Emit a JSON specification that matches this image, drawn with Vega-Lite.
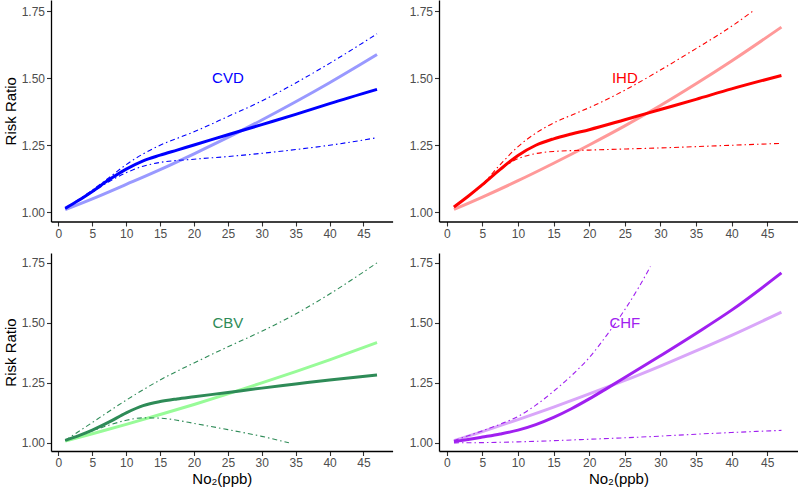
{
"$schema": "https://vega.github.io/schema/vega-lite/v6.json",
"padding": {"left": 3, "top": 0, "right": 0, "bottom": 0},
"background": "white",
"config": {
  "view": {"stroke": null},
  "font": "Liberation Sans",
  "axis": {"domainColor": "#000000", "domainWidth": 1.3, "tickColor": "#333333", "tickWidth": 1.1, "tickSize": 4.5, "labelColor": "#4D4D4D", "labelFontSize": 12, "labelFont": "Liberation Sans", "titleFont": "Liberation Sans", "titleFontSize": 15, "titleFontWeight": "normal", "titleColor": "#000000", "grid": false, "labelPadding": 2, "labelFlush": false},
  "axisY": {"titlePadding": 3},
  "axisX": {"titlePadding": 3},
  "concat": {"spacing": 16}
},
"datasets": {
  "labels": [
    {"d": "CVD", "x": 25, "y": 1.5},
    {"d": "IHD", "x": 25, "y": 1.5},
    {"d": "CBV", "x": 25, "y": 1.5},
    {"d": "CHF", "x": 25, "y": 1.5}
  ],
  "curves": [
    {"d":"CVD","t":"est","x":1,"y":1.015},{"d":"CVD","t":"est","x":3,"y":1.045},{"d":"CVD","t":"est","x":5,"y":1.078},{"d":"CVD","t":"est","x":7.5,"y":1.122},{"d":"CVD","t":"est","x":10,"y":1.161},{"d":"CVD","t":"est","x":12.5,"y":1.192},{"d":"CVD","t":"est","x":15,"y":1.213},{"d":"CVD","t":"est","x":17.5,"y":1.232},{"d":"CVD","t":"est","x":20,"y":1.251},{"d":"CVD","t":"est","x":25,"y":1.289},{"d":"CVD","t":"est","x":30,"y":1.327},{"d":"CVD","t":"est","x":35,"y":1.365},{"d":"CVD","t":"est","x":40,"y":1.405},{"d":"CVD","t":"est","x":47,"y":1.458},
    {"d":"CVD","t":"lin","x":1,"y":1.01},{"d":"CVD","t":"lin","x":5,"y":1.05},{"d":"CVD","t":"lin","x":10,"y":1.104},{"d":"CVD","t":"lin","x":15,"y":1.159},{"d":"CVD","t":"lin","x":20,"y":1.218},{"d":"CVD","t":"lin","x":25,"y":1.279},{"d":"CVD","t":"lin","x":30,"y":1.344},{"d":"CVD","t":"lin","x":35,"y":1.412},{"d":"CVD","t":"lin","x":40,"y":1.483},{"d":"CVD","t":"lin","x":47,"y":1.588},
    {"d":"CVD","t":"hi","x":1,"y":1.015},{"d":"CVD","t":"hi","x":3,"y":1.048},{"d":"CVD","t":"hi","x":5,"y":1.083},{"d":"CVD","t":"hi","x":7.5,"y":1.13},{"d":"CVD","t":"hi","x":10,"y":1.178},{"d":"CVD","t":"hi","x":12.5,"y":1.218},{"d":"CVD","t":"hi","x":15,"y":1.25},{"d":"CVD","t":"hi","x":20,"y":1.30},{"d":"CVD","t":"hi","x":25,"y":1.357},{"d":"CVD","t":"hi","x":30,"y":1.415},{"d":"CVD","t":"hi","x":35,"y":1.482},{"d":"CVD","t":"hi","x":40,"y":1.555},{"d":"CVD","t":"hi","x":47,"y":1.665},
    {"d":"CVD","t":"lo","x":1,"y":1.015},{"d":"CVD","t":"lo","x":3,"y":1.045},{"d":"CVD","t":"lo","x":5,"y":1.075},{"d":"CVD","t":"lo","x":7.5,"y":1.115},{"d":"CVD","t":"lo","x":10,"y":1.148},{"d":"CVD","t":"lo","x":12.5,"y":1.172},{"d":"CVD","t":"lo","x":15,"y":1.186},{"d":"CVD","t":"lo","x":20,"y":1.198},{"d":"CVD","t":"lo","x":25,"y":1.208},{"d":"CVD","t":"lo","x":30,"y":1.22},{"d":"CVD","t":"lo","x":35,"y":1.234},{"d":"CVD","t":"lo","x":40,"y":1.25},{"d":"CVD","t":"lo","x":47,"y":1.278},

    {"d":"IHD","t":"est","x":1,"y":1.02},{"d":"IHD","t":"est","x":3,"y":1.06},{"d":"IHD","t":"est","x":5,"y":1.103},{"d":"IHD","t":"est","x":7.5,"y":1.16},{"d":"IHD","t":"est","x":10,"y":1.212},{"d":"IHD","t":"est","x":12.5,"y":1.25},{"d":"IHD","t":"est","x":15,"y":1.274},{"d":"IHD","t":"est","x":17.5,"y":1.292},{"d":"IHD","t":"est","x":20,"y":1.308},{"d":"IHD","t":"est","x":25,"y":1.345},{"d":"IHD","t":"est","x":30,"y":1.383},{"d":"IHD","t":"est","x":35,"y":1.421},{"d":"IHD","t":"est","x":40,"y":1.46},{"d":"IHD","t":"est","x":47,"y":1.51},
    {"d":"IHD","t":"lin","x":1,"y":1.011},{"d":"IHD","t":"lin","x":5,"y":1.057},{"d":"IHD","t":"lin","x":10,"y":1.118},{"d":"IHD","t":"lin","x":15,"y":1.183},{"d":"IHD","t":"lin","x":20,"y":1.251},{"d":"IHD","t":"lin","x":25,"y":1.322},{"d":"IHD","t":"lin","x":30,"y":1.398},{"d":"IHD","t":"lin","x":35,"y":1.479},{"d":"IHD","t":"lin","x":40,"y":1.564},{"d":"IHD","t":"lin","x":47,"y":1.69},
    {"d":"IHD","t":"hi","x":1,"y":1.02},{"d":"IHD","t":"hi","x":3,"y":1.06},{"d":"IHD","t":"hi","x":5,"y":1.105},{"d":"IHD","t":"hi","x":7.5,"y":1.178},{"d":"IHD","t":"hi","x":10,"y":1.245},{"d":"IHD","t":"hi","x":12.5,"y":1.295},{"d":"IHD","t":"hi","x":15,"y":1.333},{"d":"IHD","t":"hi","x":17.5,"y":1.362},{"d":"IHD","t":"hi","x":20,"y":1.39},{"d":"IHD","t":"hi","x":25,"y":1.455},{"d":"IHD","t":"hi","x":30,"y":1.53},{"d":"IHD","t":"hi","x":35,"y":1.61},{"d":"IHD","t":"hi","x":40,"y":1.693},{"d":"IHD","t":"hi","x":43,"y":1.75},
    {"d":"IHD","t":"lo","x":1,"y":1.02},{"d":"IHD","t":"lo","x":3,"y":1.06},{"d":"IHD","t":"lo","x":5,"y":1.10},{"d":"IHD","t":"lo","x":7.5,"y":1.16},{"d":"IHD","t":"lo","x":10,"y":1.20},{"d":"IHD","t":"lo","x":12.5,"y":1.219},{"d":"IHD","t":"lo","x":15,"y":1.227},{"d":"IHD","t":"lo","x":20,"y":1.232},{"d":"IHD","t":"lo","x":30,"y":1.24},{"d":"IHD","t":"lo","x":40,"y":1.25},{"d":"IHD","t":"lo","x":47,"y":1.257},

    {"d":"CBV","t":"est","x":1,"y":1.01},{"d":"CBV","t":"est","x":3,"y":1.03},{"d":"CBV","t":"est","x":5,"y":1.053},{"d":"CBV","t":"est","x":7.5,"y":1.087},{"d":"CBV","t":"est","x":10,"y":1.125},{"d":"CBV","t":"est","x":12.5,"y":1.155},{"d":"CBV","t":"est","x":15,"y":1.172},{"d":"CBV","t":"est","x":17.5,"y":1.183},{"d":"CBV","t":"est","x":20,"y":1.192},{"d":"CBV","t":"est","x":25,"y":1.21},{"d":"CBV","t":"est","x":30,"y":1.228},{"d":"CBV","t":"est","x":35,"y":1.245},{"d":"CBV","t":"est","x":40,"y":1.262},{"d":"CBV","t":"est","x":47,"y":1.283},
    {"d":"CBV","t":"lin","x":1,"y":1.007},{"d":"CBV","t":"lin","x":5,"y":1.038},{"d":"CBV","t":"lin","x":10,"y":1.077},{"d":"CBV","t":"lin","x":15,"y":1.118},{"d":"CBV","t":"lin","x":20,"y":1.16},{"d":"CBV","t":"lin","x":25,"y":1.204},{"d":"CBV","t":"lin","x":30,"y":1.25},{"d":"CBV","t":"lin","x":35,"y":1.297},{"d":"CBV","t":"lin","x":40,"y":1.346},{"d":"CBV","t":"lin","x":47,"y":1.418},
    {"d":"CBV","t":"hi","x":1,"y":1.01},{"d":"CBV","t":"hi","x":5,"y":1.085},{"d":"CBV","t":"hi","x":10,"y":1.178},{"d":"CBV","t":"hi","x":15,"y":1.262},{"d":"CBV","t":"hi","x":20,"y":1.333},{"d":"CBV","t":"hi","x":25,"y":1.40},{"d":"CBV","t":"hi","x":30,"y":1.465},{"d":"CBV","t":"hi","x":35,"y":1.537},{"d":"CBV","t":"hi","x":40,"y":1.62},{"d":"CBV","t":"hi","x":47,"y":1.75},
    {"d":"CBV","t":"lo","x":1,"y":1.01},{"d":"CBV","t":"lo","x":3,"y":1.03},{"d":"CBV","t":"lo","x":5,"y":1.05},{"d":"CBV","t":"lo","x":7.5,"y":1.074},{"d":"CBV","t":"lo","x":10,"y":1.094},{"d":"CBV","t":"lo","x":12.5,"y":1.104},{"d":"CBV","t":"lo","x":15,"y":1.103},{"d":"CBV","t":"lo","x":17.5,"y":1.094},{"d":"CBV","t":"lo","x":20,"y":1.081},{"d":"CBV","t":"lo","x":25,"y":1.055},{"d":"CBV","t":"lo","x":30,"y":1.027},{"d":"CBV","t":"lo","x":34,"y":1.0},

    {"d":"CHF","t":"est","x":1,"y":1.005},{"d":"CHF","t":"est","x":3,"y":1.014},{"d":"CHF","t":"est","x":5,"y":1.024},{"d":"CHF","t":"est","x":7.5,"y":1.037},{"d":"CHF","t":"est","x":10,"y":1.053},{"d":"CHF","t":"est","x":12.5,"y":1.076},{"d":"CHF","t":"est","x":15,"y":1.106},{"d":"CHF","t":"est","x":17.5,"y":1.142},{"d":"CHF","t":"est","x":20,"y":1.183},{"d":"CHF","t":"est","x":22.5,"y":1.227},{"d":"CHF","t":"est","x":25,"y":1.272},{"d":"CHF","t":"est","x":30,"y":1.363},{"d":"CHF","t":"est","x":35,"y":1.456},{"d":"CHF","t":"est","x":40,"y":1.553},{"d":"CHF","t":"est","x":47,"y":1.708},
    {"d":"CHF","t":"lin","x":1,"y":1.009},{"d":"CHF","t":"lin","x":5,"y":1.047},{"d":"CHF","t":"lin","x":10,"y":1.097},{"d":"CHF","t":"lin","x":15,"y":1.149},{"d":"CHF","t":"lin","x":20,"y":1.204},{"d":"CHF","t":"lin","x":25,"y":1.26},{"d":"CHF","t":"lin","x":30,"y":1.32},{"d":"CHF","t":"lin","x":35,"y":1.383},{"d":"CHF","t":"lin","x":40,"y":1.448},{"d":"CHF","t":"lin","x":47,"y":1.545},
    {"d":"CHF","t":"hi","x":1,"y":1.01},{"d":"CHF","t":"hi","x":5,"y":1.05},{"d":"CHF","t":"hi","x":7.5,"y":1.078},{"d":"CHF","t":"hi","x":10,"y":1.11},{"d":"CHF","t":"hi","x":12.5,"y":1.157},{"d":"CHF","t":"hi","x":15,"y":1.215},{"d":"CHF","t":"hi","x":17.5,"y":1.28},{"d":"CHF","t":"hi","x":20,"y":1.355},{"d":"CHF","t":"hi","x":22.5,"y":1.45},{"d":"CHF","t":"hi","x":25,"y":1.555},{"d":"CHF","t":"hi","x":27,"y":1.65},{"d":"CHF","t":"hi","x":28.6,"y":1.735},
    {"d":"CHF","t":"lo","x":1,"y":1.0},{"d":"CHF","t":"lo","x":5,"y":1.001},{"d":"CHF","t":"lo","x":10,"y":1.004},{"d":"CHF","t":"lo","x":15,"y":1.009},{"d":"CHF","t":"lo","x":20,"y":1.015},{"d":"CHF","t":"lo","x":25,"y":1.021},{"d":"CHF","t":"lo","x":30,"y":1.028},{"d":"CHF","t":"lo","x":35,"y":1.036},{"d":"CHF","t":"lo","x":40,"y":1.043},{"d":"CHF","t":"lo","x":47,"y":1.052}
  ]
},
"spacing": 14,
"vconcat": [
  {"hconcat": [
    {"width": 341.6, "height": 221.5,
     "encoding": {
       "x": {"field": "x", "type": "quantitative", "scale": {"domain": [-1.1, 49.3], "nice": false, "zero": false}, "axis": {"values": [0,5,10,15,20,25,30,35,40,45], "title": null}},
       "y": {"field": "y", "type": "quantitative", "scale": {"domain": [0.966, 1.791], "nice": false, "zero": false}, "axis": {"values": [1,1.25,1.5,1.75], "format": ".2f", "title": "Risk Ratio"}}
     },
     "layer": [
       {"data": {"name": "curves"}, "transform": [{"filter": "datum.d === 'CVD' && datum.t === 'lin'"}], "mark": {"type": "line", "color": "#9999FF", "strokeWidth": 3, "interpolate": "monotone", "clip": true}},
       {"data": {"name": "curves"}, "transform": [{"filter": "datum.d === 'CVD' && datum.t === 'est'"}], "mark": {"type": "line", "color": "#0000FF", "strokeWidth": 3, "interpolate": "monotone", "clip": true}},
       {"data": {"name": "curves"}, "transform": [{"filter": "datum.d === 'CVD' && (datum.t === 'lo' || datum.t === 'hi')"}], "mark": {"type": "line", "color": "#0000FF", "strokeWidth": 1.1, "strokeDash": [5,3,1.5,3], "interpolate": "monotone", "clip": true}, "encoding": {"detail": {"field": "t"}}},
       {"data": {"name": "labels"}, "transform": [{"filter": "datum.d === 'CVD'"}], "mark": {"type": "text", "fontSize": 15, "color": "#0000FF", "font": "Liberation Sans"}, "encoding": {"text": {"field": "d"}}}
     ]},
    {"width": 358.8, "height": 221.5,
     "encoding": {
       "x": {"field": "x", "type": "quantitative", "scale": {"domain": [-1.1, 49.3], "nice": false, "zero": false}, "axis": {"values": [0,5,10,15,20,25,30,35,40,45], "title": null}},
       "y": {"field": "y", "type": "quantitative", "scale": {"domain": [0.966, 1.791], "nice": false, "zero": false}, "axis": {"values": [1,1.25,1.5,1.75], "format": ".2f", "title": null}}
     },
     "layer": [
       {"data": {"name": "curves"}, "transform": [{"filter": "datum.d === 'IHD' && datum.t === 'lin'"}], "mark": {"type": "line", "color": "#FF9999", "strokeWidth": 3, "interpolate": "monotone", "clip": true}},
       {"data": {"name": "curves"}, "transform": [{"filter": "datum.d === 'IHD' && datum.t === 'est'"}], "mark": {"type": "line", "color": "#FF0000", "strokeWidth": 3, "interpolate": "monotone", "clip": true}},
       {"data": {"name": "curves"}, "transform": [{"filter": "datum.d === 'IHD' && (datum.t === 'lo' || datum.t === 'hi')"}], "mark": {"type": "line", "color": "#FF0000", "strokeWidth": 1.1, "strokeDash": [5,3,1.5,3], "interpolate": "monotone", "clip": true}, "encoding": {"detail": {"field": "t"}}},
       {"data": {"name": "labels"}, "transform": [{"filter": "datum.d === 'IHD'"}], "mark": {"type": "text", "fontSize": 15, "color": "#FF0000", "font": "Liberation Sans"}, "encoding": {"text": {"field": "d"}}}
     ]}
  ]},
  {"hconcat": [
    {"width": 341.6, "height": 198,
     "encoding": {
       "x": {"field": "x", "type": "quantitative", "scale": {"domain": [-1.1, 49.3], "nice": false, "zero": false}, "axis": {"values": [0,5,10,15,20,25,30,35,40,45], "title": "No₂(ppb)"}},
       "y": {"field": "y", "type": "quantitative", "scale": {"domain": [0.966, 1.791], "nice": false, "zero": false}, "axis": {"values": [1,1.25,1.5,1.75], "format": ".2f", "title": "Risk Ratio"}}
     },
     "layer": [
       {"data": {"name": "curves"}, "transform": [{"filter": "datum.d === 'CBV' && datum.t === 'lin'"}], "mark": {"type": "line", "color": "#98FB98", "strokeWidth": 3, "interpolate": "monotone", "clip": true}},
       {"data": {"name": "curves"}, "transform": [{"filter": "datum.d === 'CBV' && datum.t === 'est'"}], "mark": {"type": "line", "color": "#2E8B57", "strokeWidth": 3, "interpolate": "monotone", "clip": true}},
       {"data": {"name": "curves"}, "transform": [{"filter": "datum.d === 'CBV' && (datum.t === 'lo' || datum.t === 'hi')"}], "mark": {"type": "line", "color": "#2E8B57", "strokeWidth": 1.1, "strokeDash": [5,3,1.5,3], "interpolate": "monotone", "clip": true}, "encoding": {"detail": {"field": "t"}}},
       {"data": {"name": "labels"}, "transform": [{"filter": "datum.d === 'CBV'"}], "mark": {"type": "text", "fontSize": 15, "color": "#2E8B57", "font": "Liberation Sans"}, "encoding": {"text": {"field": "d"}}}
     ]},
    {"width": 358.8, "height": 198,
     "encoding": {
       "x": {"field": "x", "type": "quantitative", "scale": {"domain": [-1.1, 49.3], "nice": false, "zero": false}, "axis": {"values": [0,5,10,15,20,25,30,35,40,45], "title": "No₂(ppb)"}},
       "y": {"field": "y", "type": "quantitative", "scale": {"domain": [0.966, 1.791], "nice": false, "zero": false}, "axis": {"values": [1,1.25,1.5,1.75], "format": ".2f", "title": null}}
     },
     "layer": [
       {"data": {"name": "curves"}, "transform": [{"filter": "datum.d === 'CHF' && datum.t === 'lin'"}], "mark": {"type": "line", "color": "#D9A6F9", "strokeWidth": 3, "interpolate": "monotone", "clip": true}},
       {"data": {"name": "curves"}, "transform": [{"filter": "datum.d === 'CHF' && datum.t === 'est'"}], "mark": {"type": "line", "color": "#A020F0", "strokeWidth": 3, "interpolate": "monotone", "clip": true}},
       {"data": {"name": "curves"}, "transform": [{"filter": "datum.d === 'CHF' && (datum.t === 'lo' || datum.t === 'hi')"}], "mark": {"type": "line", "color": "#A020F0", "strokeWidth": 1.1, "strokeDash": [5,3,1.5,3], "interpolate": "monotone", "clip": true}, "encoding": {"detail": {"field": "t"}}},
       {"data": {"name": "labels"}, "transform": [{"filter": "datum.d === 'CHF'"}], "mark": {"type": "text", "fontSize": 15, "color": "#A020F0", "font": "Liberation Sans"}, "encoding": {"text": {"field": "d"}}}
     ]}
  ]}
]
}
